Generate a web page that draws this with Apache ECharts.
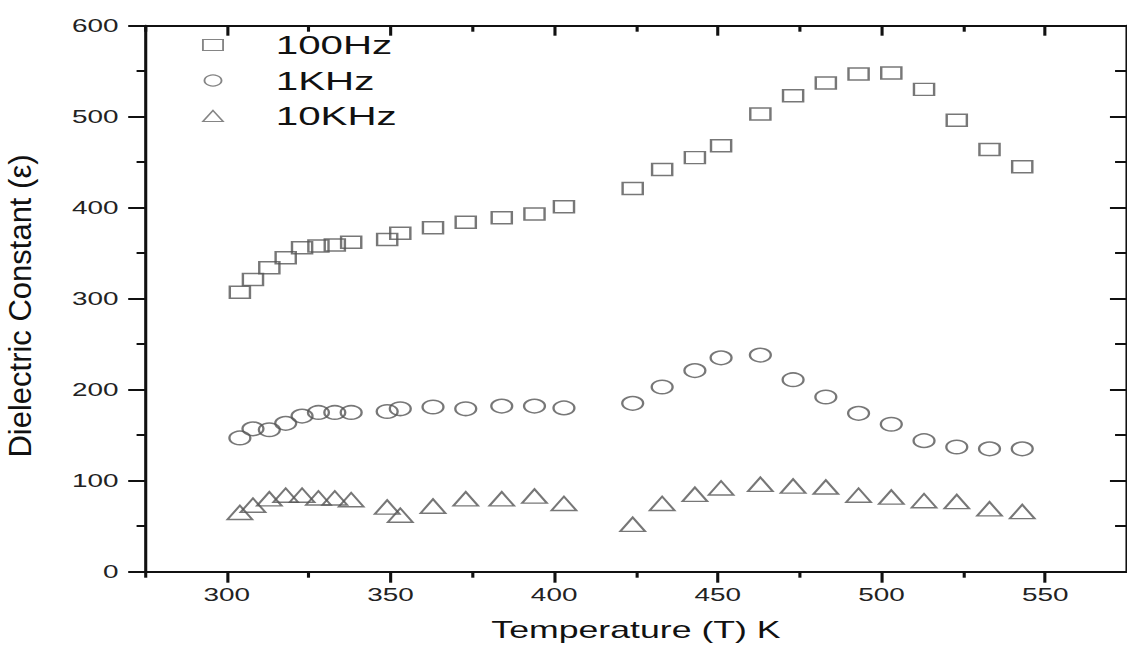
<!DOCTYPE html>
<html>
<head>
<meta charset="utf-8">
<script src="https://cdn.jsdelivr.net/npm/echarts@6/dist/echarts.min.js"></script>
<style>
html, body { margin: 0; padding: 0; background: #fff; overflow: hidden; }
/* the original figure is stretched sideways, so the chart is drawn narrow and widened */
#chart { width: 727px; height: 648px; transform: scaleX(1.5502); transform-origin: 0 0; }
</style>
</head>
<body>
<div id="chart"></div>
<script>
var temps = [304, 308, 313, 318, 323, 328, 333, 338, 349, 353, 363, 373, 384, 394, 403,
	424, 433, 443, 451, 463, 473, 483, 493, 503, 513, 523, 533, 543];
var eps100Hz = [307, 321, 334, 345, 356, 358, 359, 362, 365, 372, 378, 384, 389, 393, 401,
	421, 442, 455, 468, 503, 523, 537, 547, 548, 530, 496, 464, 445];
var eps1KHz = [147, 157, 156, 163, 171, 175, 175, 175, 176, 179, 181, 179, 182, 182, 180,
	185, 203, 221, 235, 238, 211, 192, 174, 162, 144, 137, 135, 135];
var eps10KHz = [65, 73, 80, 84, 84, 81, 81, 79, 71, 62, 72, 80, 80, 83, 75,
	52, 75, 85, 92, 96, 94, 93, 84, 82, 78, 77, 69, 66];

var seriesNames = ['100Hz', '1KHz', '10KHz'];
var xMajor = [300, 350, 400, 450, 500, 550];
var xMinor = [275, 325, 375, 425, 475, 525];

var STRETCH = 1.5502,
	FONT = 'Liberation Sans, Arial, sans-serif',
	INK = '#111',
	MARK = '#555';

function pairs(xs, ys) {
	var out = [], i;
	for (i = 0; i < xs.length; i++)
		out.push([xs[i], ys[i]]);
	return out;
}

function marker(name, symbol, size, values) {
	return {
		type: 'scatter',
		name: name,
		symbol: symbol,
		symbolSize: size,
		xAxisIndex: 0,
		yAxisIndex: 0,
		data: pairs(temps, values),
		itemStyle: {
			color: 'rgba(0,0,0,0)',
			borderColor: MARK,
			borderWidth: 1.5
		},
		emphasis: { disabled: true }
	};
}

function xAxisOf(grid, pos, ticks, len, inside, withLine, withLabels) {
	return {
		type: 'value',
		gridIndex: grid,
		position: pos,
		min: 275,
		max: 575,
		axisLine: { show: withLine, onZero: false, lineStyle: { color: INK, width: 2 } },
		axisTick: { show: true, inside: inside, length: len, customValues: ticks,
			lineStyle: { color: INK, width: 2 } },
		axisLabel: { show: withLabels, customValues: ticks, margin: 14,
			fontSize: 18, fontFamily: FONT, color: '#222' },
		splitLine: { show: false }
	};
}

var bottomAxis = xAxisOf(0, 'bottom', xMajor, 11, false, true, true);
bottomAxis.name = 'Temperature (T) K';
bottomAxis.nameLocation = 'middle';
bottomAxis.nameGap = 47;
bottomAxis.nameTextStyle = { fontSize: 23, fontFamily: FONT, color: INK };

var grid = { left: 93.5, right: -5.5, top: 25.7, bottom: 76.3 };

var option = {
	animation: false,
	backgroundColor: '#fff',
	grid: [grid, grid],
	xAxis: [
		bottomAxis,
		xAxisOf(0, 'top', xMajor, 10, true, true, false),
		xAxisOf(1, 'bottom', xMinor, 6, false, false, false),
		xAxisOf(1, 'top', xMinor, 6, true, false, false)
	],
	yAxis: [
		{
			type: 'value', gridIndex: 0, position: 'left',
			min: 0, max: 600, interval: 100,
			axisLine: { show: true, lineStyle: { color: INK, width: 2 } },
			axisTick: { show: true, length: 10.8, lineStyle: { color: INK, width: 2 } },
			minorTick: { show: true, splitNumber: 2, length: 5.4, lineStyle: { color: INK, width: 2 } },
			axisLabel: { margin: 17, fontSize: 18, fontFamily: FONT, color: '#222' },
			splitLine: { show: false }
		},
		{
			type: 'value', gridIndex: 0, position: 'right',
			min: 0, max: 600, interval: 100,
			axisLine: { show: true, lineStyle: { color: INK, width: 2 } },
			axisTick: { show: true, inside: true, length: 11, lineStyle: { color: INK, width: 2 } },
			minorTick: { show: true, splitNumber: 2, length: 7.7, lineStyle: { color: INK, width: 2 } },
			axisLabel: { show: false },
			splitLine: { show: false }
		},
		{
			type: 'value', gridIndex: 1, show: false, min: 0, max: 600
		}
	],
	legend: {
		orient: 'vertical',
		left: 130.3,
		top: 32,
		padding: 0,
		itemGap: 9.5,
		itemWidth: 13,
		itemHeight: 11,
		symbolKeepAspect: false,
		selectedMode: false,
		data: seriesNames,
		itemStyle: { color: 'rgba(0,0,0,0)', borderColor: '#666', borderWidth: 1.2 },
		textStyle: { fontSize: 26, fontFamily: FONT, color: INK, padding: [0, 0, 0, 29] }
	},
	graphic: [
		{
			type: 'text',
			x: 13.5,
			y: 306,
			rotation: Math.PI / 2,
			scaleY: 1 / STRETCH,
			silent: true,
			style: {
				text: 'Dielectric Constant (\u03b5)',
				fontSize: 31,
				fontFamily: FONT,
				fill: INK,
				align: 'center',
				verticalAlign: 'middle'
			}
		}
	],
	series: [
		marker(seriesNames[0], 'rect', [13, 12], eps100Hz),
		marker(seriesNames[1], 'circle', [13.5, 13.5], eps1KHz),
		marker(seriesNames[2], 'triangle', [16, 14], eps10KHz)
	]
};

var chart = echarts.init(document.getElementById('chart'), null, { renderer: 'svg' });
chart.setOption(option);
</script>
</body>
</html>
